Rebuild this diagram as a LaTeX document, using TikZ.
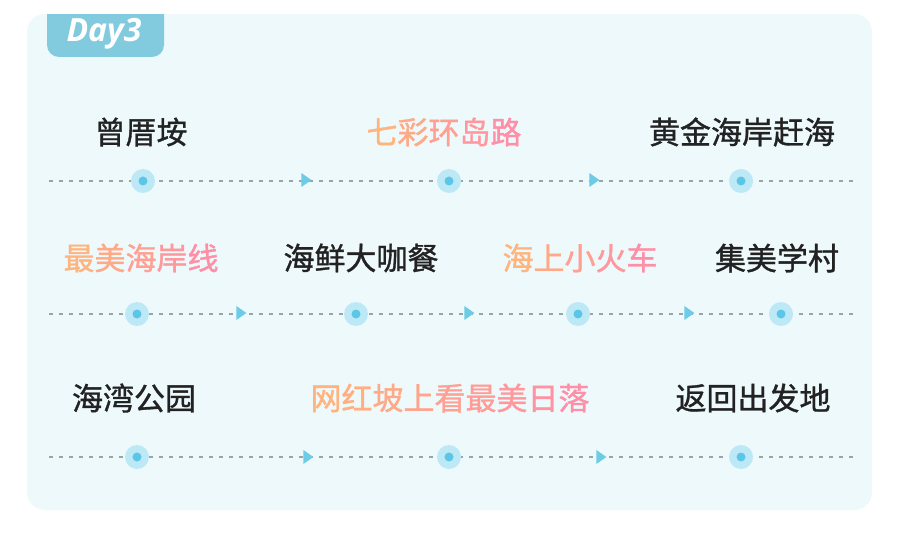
\documentclass[tikz,border=0pt]{standalone}
\usepackage{fontspec}
\usetikzlibrary{shapes.geometric}
\newfontfamily\cjk[FakeBold=1.1]{Noto Sans CJK SC}
\newfontfamily\dayfont{Open Sans}
\definecolor{panel}{HTML}{EEF9FC}
\definecolor{tab}{HTML}{82CBDF}
\definecolor{ink}{HTML}{222222}
\definecolor{ga}{HTML}{FFB37D}
\definecolor{gb}{HTML}{FF8EA6}
\definecolor{dashc}{HTML}{9AA4A8}
\definecolor{halo}{HTML}{BDE9F7}
\definecolor{core}{HTML}{5CC6E6}
\definecolor{arrc}{HTML}{6ECBE6}
\newcommand\gc[2]{{\color{gb!#1!ga}#2}}
\tikzset{
  place/.style={font=\cjk\fontsize{31}{33}\selectfont, text=ink, inner sep=0pt, anchor=center},
  route/.style={draw=dashc, line width=1.1pt, dash pattern=on 4pt off 6pt},
  halo/.style={circle, fill=halo, minimum size=24pt, inner sep=0pt},
  coredot/.style={circle, fill=core, minimum size=9pt, inner sep=0pt},
  arrowtip/.style={isosceles triangle, isosceles triangle apex angle=70, fill=arrc, inner sep=0pt, minimum height=10pt, minimum width=8pt}
}
\begin{document}
\begin{tikzpicture}[x=1pt,y=-1pt]
\useasboundingbox (0,0) rectangle (900,556);
\fill[white] (0,0) rectangle (900,556);
% panel
\fill[panel, rounded corners=18pt] (27,14) rectangle (872,510);
% tab
\fill[tab, rounded corners=12pt] (47,0) rectangle (164,57);
\fill[white] (0,0) rectangle (900,14);
\node[font=\dayfont\bfseries\itshape\fontsize{32}{34}\selectfont, text=white, inner sep=0pt] (day) at (104,34) {Day3};

% rows: lines
\foreach \r/\y in {1/181,2/314,3/457}{
  \coordinate (s\r) at (49,\y);
  \coordinate (e\r) at (855,\y);
  \draw[route] (s\r) -- (e\r);
}
% row 1
\node[place] (t11) at (141,132) {曾厝垵};
\node[place] (t12) at (444,132) {\gc{0}{七}\gc{25}{彩}\gc{50}{环}\gc{75}{岛}\gc{100}{路}};
\node[place] (t13) at (742,132) {黄金海岸赶海};
% row 2
\node[place] (t21) at (141,258) {\gc{0}{最}\gc{25}{美}\gc{50}{海}\gc{75}{岸}\gc{100}{线}};
\node[place] (t22) at (361,258) {海鲜大咖餐};
\node[place] (t23) at (580,258) {\gc{0}{海}\gc{25}{上}\gc{50}{小}\gc{75}{火}\gc{100}{车}};
\node[place] (t24) at (777,258) {集美学村};
% row 3
\node[place] (t31) at (134,398) {海湾公园};
\node[place] (t32) at (450,398) {\gc{0}{网}\gc{12}{红}\gc{25}{坡}\gc{37}{上}\gc{50}{看}\gc{62}{最}\gc{75}{美}\gc{87}{日}\gc{100}{落}};
\node[place] (t33) at (753,398) {返回出发地};

% dots
\foreach \n/\x/\y in {11/143/181,12/449/181,13/741/181,
                      21/137/314,22/356/314,23/578/314,24/781/314,
                      31/137/457,32/449/457,33/741/457}{
  \node[halo] (h\n) at (\x,\y) {};
  \node[coredot] (d\n) at (\x,\y) {};
}
% arrows
\foreach \n/\x/\y in {11/305/180,12/593/180,
                      21/240/313,22/468/313,23/688/313,
                      31/307/457,32/600/457}{
  \node[arrowtip] (a\n) at (\x,\y) {};
}
\end{tikzpicture}
\end{document}
